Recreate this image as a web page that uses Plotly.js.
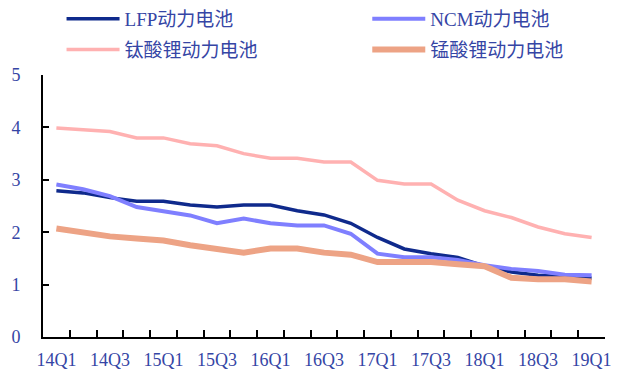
<!DOCTYPE html>
<html>
<head>
<meta charset="utf-8">
<script src="https://cdn.plot.ly/plotly-3.0.1.min.js"></script>
<style>
  html, body { margin: 0; padding: 0; background: #ffffff; }
  #chart { width: 627px; height: 372px; }
</style>
</head>
<body>
<div id="chart"></div>
<script>
// Quarterly categories, 14Q1 .. 19Q1
const quarters = [
  "14Q1","14Q2","14Q3","14Q4","15Q1","15Q2","15Q3","15Q4",
  "16Q1","16Q2","16Q3","16Q4","17Q1","17Q2","17Q3","17Q4",
  "18Q1","18Q2","18Q3","18Q4","19Q1"
];
// Labelled quarters on the x axis
const tickLabels = ["14Q1","14Q3","15Q1","15Q3","16Q1","16Q3","17Q1","17Q3","18Q1","18Q3","19Q1"];

const seriesNames = ["LFP动力电池", "NCM动力电池", "钛酸锂动力电池", "锰酸锂动力电池"];

const lfp = [2.79, 2.75, 2.66, 2.59, 2.59, 2.52, 2.48, 2.52, 2.52, 2.41, 2.33,
             2.17, 1.90, 1.68, 1.59, 1.52, 1.35, 1.24, 1.18, 1.15, 1.12];
const ncm = [2.91, 2.82, 2.69, 2.48, 2.40, 2.32, 2.17, 2.26, 2.17, 2.13, 2.13,
             1.97, 1.59, 1.52, 1.52, 1.47, 1.37, 1.30, 1.26, 1.19, 1.18];
const lto = [3.99, 3.95, 3.92, 3.80, 3.80, 3.69, 3.65, 3.50, 3.41, 3.41, 3.34,
             3.34, 2.99, 2.92, 2.92, 2.61, 2.41, 2.28, 2.10, 1.97, 1.90];
const lmo = [2.07, 1.99, 1.92, 1.88, 1.84, 1.75, 1.67, 1.61, 1.69, 1.69, 1.61,
             1.57, 1.43, 1.43, 1.43, 1.39, 1.35, 1.13, 1.10, 1.10, 1.06];

const colors = ["#0f2a8c", "#7f7fff", "#ffb1b1", "#eda385"];
const widths = [3.5, 4, 3.5, 6];
const values = [lfp, ncm, lto, lmo];
// left legend column: LFP, 钛酸锂; right column: NCM, 锰酸锂
const legendOf = ["legend", "legend2", "legend", "legend2"];

const textColor = "#3545a5";
const latin = "'Liberation Serif', 'DejaVu Serif', serif";
const cjk = "'Liberation Serif', 'Noto Sans CJK SC', serif";

const traces = values.map((v, i) => ({
  type: "scatter",
  mode: "lines",
  x: quarters,
  y: v,
  name: seriesNames[i],
  legend: legendOf[i],
  legendgroup: "g" + i,
  line: { color: colors[i], width: widths[i] },
  hoverinfo: "x+y+name"
}));

// every quarter gets a boundary tick; only every other one is labelled
const tickText = quarters.map(q => (tickLabels.includes(q) ? q : ""));

const legendBase = {
  orientation: "v",
  xref: "paper",
  yref: "container",
  xanchor: "left",
  y: 1.0, yanchor: "top",
  itemwidth: 53,
  tracegroupgap: 3,
  font: { family: cjk, size: 19, color: textColor },
  traceorder: "grouped",
  bgcolor: "rgba(0,0,0,0)"
};

const layout = {
  width: 627,
  height: 372,
  margin: { l: 43, r: 22, t: 75, b: 35 },
  paper_bgcolor: "#ffffff",
  plot_bgcolor: "#ffffff",
  showlegend: true,
  legend: Object.assign({}, legendBase, { x: 0.033 }),
  legend2: Object.assign({}, legendBase, { x: 0.577 }),
  xaxis: {
    type: "category",
    categoryorder: "array",
    categoryarray: quarters,
    range: [-0.5, quarters.length - 0.5],
    tickmode: "array",
    tickvals: quarters,
    ticktext: tickText,
    tickson: "boundaries",
    tickangle: 0,
    ticks: "inside",
    ticklen: 7,
    tickwidth: 2,
    tickcolor: "#000000",
    showgrid: false,
    zeroline: false,
    showline: true,
    linecolor: "#000000",
    linewidth: 2,
    ticklabelstandoff: 5,
    tickfont: { family: latin, size: 18, color: textColor },
    automargin: false,
    fixedrange: true
  },
  yaxis: {
    range: [0, 5],
    dtick: 1,
    tick0: 0,
    ticks: "inside",
    ticklen: 6,
    tickwidth: 2,
    tickcolor: "#000000",
    showgrid: false,
    zeroline: false,
    showline: true,
    linecolor: "#000000",
    linewidth: 2,
    ticklabelstandoff: 17,
    tickfont: { family: latin, size: 18, color: textColor },
    automargin: false,
    fixedrange: true
  }
};

Plotly.newPlot("chart", traces, layout, { displayModeBar: false, staticPlot: true });
</script>
</body>
</html>
